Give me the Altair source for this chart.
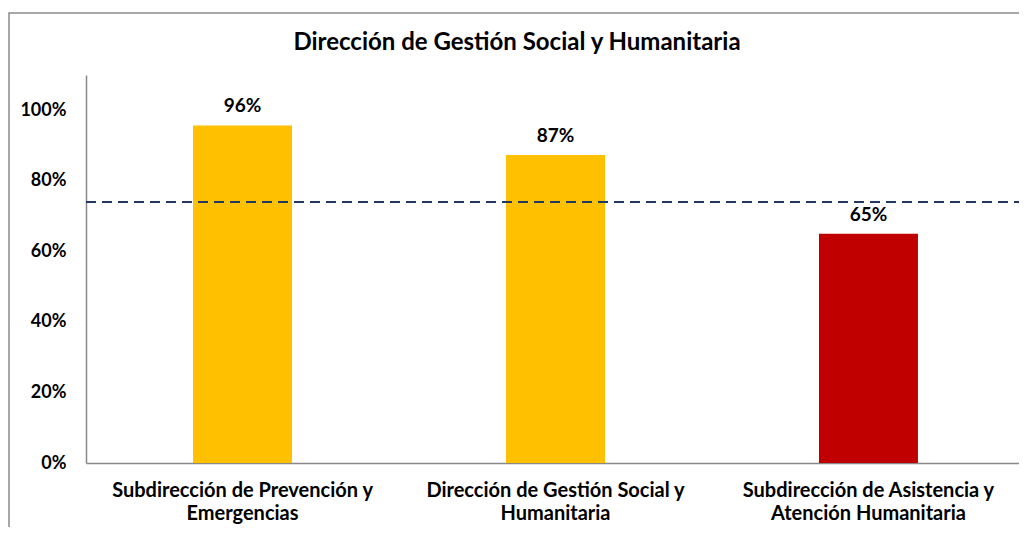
import altair as alt
import pandas as pd

categories = [
    "Subdirección de Prevención y|Emergencias",
    "Dirección de Gestión Social y|Humanitaria",
    "Subdirección de Asistencia y|Atención Humanitaria",
]
values = [0.957, 0.873, 0.65]
bar_colors = ["#FFC000", "#FFC000", "#C00000"]
target = [0.74]
y_ticks = [0, 0.2, 0.4, 0.6, 0.8, 1.0]
title_text = ["Dirección de Gestión Social y Humanitaria"]

FONT = "Lato"

df = pd.DataFrame({"cat": categories, "val": values, "color": bar_colors})
df_target = pd.DataFrame({"target": target})
df_title = pd.DataFrame({"t": title_text})

x_enc = alt.X(
    "cat:N",
    sort=categories,
    scale=alt.Scale(paddingInner=0.6837, paddingOuter=0.342, range=[0, 939]),
    axis=alt.Axis(
        title=None,
        labelAngle=0,
        labelExpr="split(datum.value, '|')",
        labelFont=FONT,
        labelFontSize=20,
        labelFontWeight="bold",
        labelColor="#000000",
        labelPadding=17,
        labelLineHeight=23,
        labelLimit=500,
        ticks=False,
        domainColor="#898989",
        domainWidth=1.5,
    ),
)
y_enc = alt.Y(
    "val:Q",
    scale=alt.Scale(domain=[0, 1.1], nice=False),
    axis=alt.Axis(
        title=None,
        values=y_ticks,
        format=".0%",
        labelFont=FONT,
        labelFontSize=18,
        labelFontWeight="bold",
        labelColor="#000000",
        labelPadding=20,
        ticks=False,
        grid=False,
        domainColor="#898989",
        domainWidth=1.5,
    ),
)

frame = alt.Chart(pd.DataFrame({"a": [0]})).mark_rect(
    fillOpacity=0, stroke="#8c8c8c", strokeWidth=1.5, clip=False
).encode(
    x=alt.value(-77), x2=alt.value(2000), y=alt.value(-62), y2=alt.value(2000)
)

title = alt.Chart(df_title).mark_text(
    font=FONT, fontSize=24, fontWeight="bold", color="#000000",
    align="center", baseline="alphabetic"
).encode(
    x=alt.value(431), y=alt.value(-25), text="t:N"
)

bars = alt.Chart(df).mark_bar().encode(
    x=x_enc,
    y=y_enc,
    color=alt.Color("color:N", scale=None),
)

labels = alt.Chart(df).mark_text(
    font=FONT, fontSize=19, fontWeight="bold", color="#000000",
    baseline="alphabetic", dy=-13
).encode(
    x=alt.X("cat:N", sort=categories),
    y="val:Q",
    text=alt.Text("val:Q", format=".0%"),
)

rule = alt.Chart(df_target).mark_rule(
    color="#1F3864", strokeWidth=2.2, strokeDash=[10, 6], clip=False
).encode(y="target:Q", x=alt.value(0), x2=alt.value(939))

chart = alt.layer(frame, title, bars, labels, rule).properties(
    width=933,
    height=388,
    background="#ffffff",
    autosize=alt.AutoSizeParams(type="none"),
    padding={"left": 78, "top": 67, "right": 0, "bottom": 64},
).configure_view(stroke=None)

chart.save("out.html", embed_options={"renderer": "svg", "actions": False})
